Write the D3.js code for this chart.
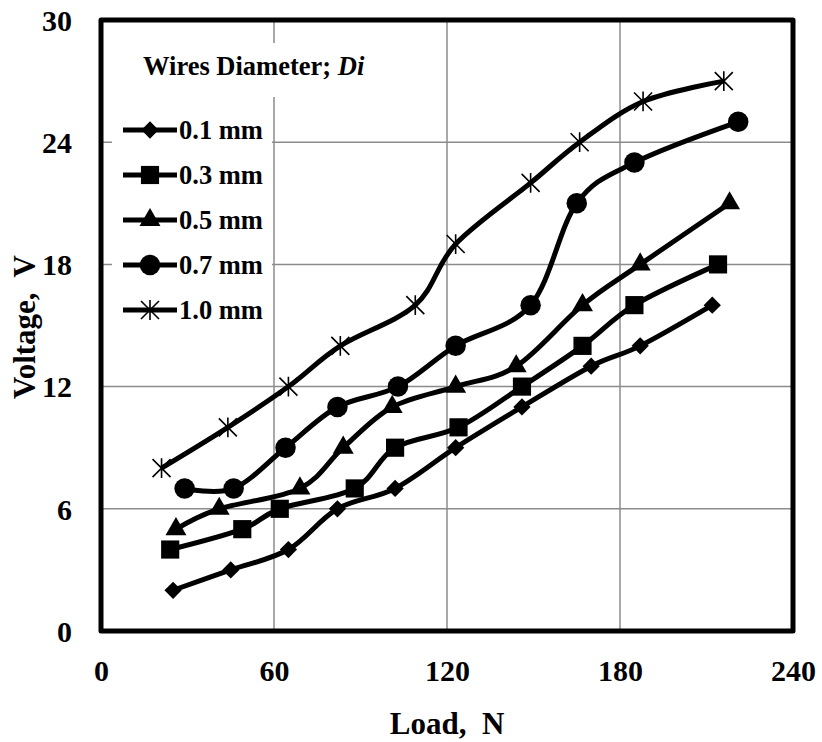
<html>
<head>
  <meta charset="utf-8">
  <script src="https://d3js.org/d3.v7.min.js"></script>
  <style>
    body { margin: 0; background: #fff; }
    text { font-family: "Liberation Serif", "Times New Roman", serif; font-weight: bold; white-space: pre; }
  </style>
</head>
<body>
<svg id="chart" width="822" height="742"></svg>
<script>
// values
var xTicks = [0, 60, 120, 180, 240];
var yTicks = [0, 6, 12, 18, 24, 30];
var seriesNames = ["0.1 mm", "0.3 mm", "0.5 mm", "0.7 mm", "1.0 mm"];
var markers = ["diamond", "square", "triangle", "circle", "star"];

var load01 = [25, 45, 65, 82, 102, 123, 146, 170, 187, 212];
var volt01 = [2, 3, 4, 6, 7, 9, 11, 13, 14, 16];
var load03 = [24, 49, 62, 88, 102, 124, 146, 167, 185, 214];
var volt03 = [4, 5, 6, 7, 9, 10, 12, 14, 16, 18];
var load05 = [26, 41, 69, 84, 101, 123, 144, 167, 187, 218];
var volt05 = [5, 6, 7, 9, 11, 12, 13, 16, 18, 21];
var load07 = [29, 46, 64, 82, 103, 123, 149, 165, 185, 221];
var volt07 = [7, 7, 9, 11, 12, 14, 16, 21, 23, 25];
var load10 = [21, 44, 65, 83, 109, 123, 149, 166, 188, 216];
var volt10 = [8, 10, 12, 14, 16, 19, 22, 24, 26, 27];

var loads = [load01, load03, load05, load07, load10];
var volts = [volt01, volt03, volt05, volt07, volt10];

var svg = d3.select("#chart");
var x = d3.scaleLinear().domain([0, 240]).range([101, 793]);
var y = d3.scaleLinear().domain([0, 30]).range([631, 20]);

// gridlines
svg.append("g").selectAll("line").data(xTicks.slice(1, -1)).join("line")
    .attr("x1", d => x(d)).attr("x2", d => x(d)).attr("y1", y(30)).attr("y2", y(0))
    .attr("stroke", "#8c8c8c").attr("stroke-width", 1.5);
svg.append("g").selectAll("line").data(yTicks.slice(1, -1)).join("line")
    .attr("y1", d => y(d)).attr("y2", d => y(d)).attr("x1", x(0)).attr("x2", x(240))
    .attr("stroke", "#8c8c8c").attr("stroke-width", 1.5);

// axes (labels only)
var gx = svg.append("g").attr("transform", "translate(0,681)")
    .call(d3.axisBottom(x).tickValues(xTicks).tickSize(0).tickPadding(0));
gx.selectAll("text").attr("y", 0).attr("dy", 0);
var gy = svg.append("g").attr("transform", "translate(72,0)")
    .call(d3.axisLeft(y).tickValues(yTicks).tickSize(0).tickPadding(0));
gy.selectAll("text").attr("dy", "0.34em");
[gx, gy].forEach(g => {
    g.select(".domain").remove();
    g.selectAll("text").attr("font-size", 30).attr("fill", "#000")
        .attr("font-family", "Liberation Serif").attr("font-weight", "bold");
});

svg.append("text").attr("x", x(120)).attr("y", 734).attr("text-anchor", "middle")
    .attr("font-size", 31).text("Load,  N");
svg.append("text").attr("transform", "translate(35," + 327 + ") rotate(-90)")
    .attr("text-anchor", "middle").attr("font-size", 31).text("Voltage,  V");

// markers
var symTypes = {
    diamond: d3.symbol().type(d3.symbolDiamond2).size(190),
    square: d3.symbol().type(d3.symbolSquare2).size(420),
    triangle: d3.symbol().type(d3.symbolTriangle).size(190),
    circle: d3.symbol().type(d3.symbolCircle).size(330)
};
function drawMarker(g, kind, px, py) {
    if (kind === "star") {
        var r = 9;
        g.append("path")
            .attr("d", "M" + (px - r) + "," + (py - r) + "L" + (px + r) + "," + (py + r) +
                "M" + (px - r) + "," + (py + r) + "L" + (px + r) + "," + (py - r) +
                "M" + px + "," + (py - r * 1.1) + "L" + px + "," + (py + r * 1.1))
            .attr("stroke", "#000").attr("stroke-width", 1.6).attr("fill", "none");
    } else {
        g.append("path").attr("d", symTypes[kind]())
            .attr("transform", "translate(" + px + "," + py + ")").attr("fill", "#000");
    }
}

var line = d3.line().curve(d3.curveCatmullRom.alpha(0));
loads.forEach((ld, i) => {
    var pts = ld.map((v, j) => [x(v), y(volts[i][j])]);
    var g = svg.append("g");
    g.append("path").attr("d", line(pts)).attr("fill", "none")
        .attr("stroke", "#000").attr("stroke-width", 5);
    pts.forEach(p => drawMarker(g, markers[i], p[0], p[1]));
});

// frame
svg.append("rect").attr("x", x(0)).attr("y", y(30)).attr("width", x(240) - x(0))
    .attr("height", y(0) - y(30)).attr("fill", "none").attr("stroke", "#000")
    .attr("stroke-width", 5).attr("stroke-linejoin", "round");

// title box and legend
svg.append("rect").attr("x", 130).attr("y", 43).attr("width", 245).attr("height", 54).attr("fill", "#fff");
var title = svg.append("text").attr("x", 143).attr("y", 75).attr("font-size", 26.5);
title.append("tspan").text("Wires Diameter; ");
title.append("tspan").attr("font-style", "italic").text("Di");

svg.append("rect").attr("x", 112).attr("y", 108).attr("width", 160).attr("height", 222).attr("fill", "#fff");
var lg = svg.append("g");
seriesNames.forEach((name, i) => {
    var ly = 130 + i * 45;
    lg.append("line").attr("x1", 123).attr("x2", 177).attr("y1", ly).attr("y2", ly)
        .attr("stroke", "#000").attr("stroke-width", 5);
    drawMarker(lg, markers[i], 150, ly);
    lg.append("text").attr("x", 179).attr("y", ly + 9).attr("font-size", 26.5).text(name);
});
</script>
</body>
</html>
